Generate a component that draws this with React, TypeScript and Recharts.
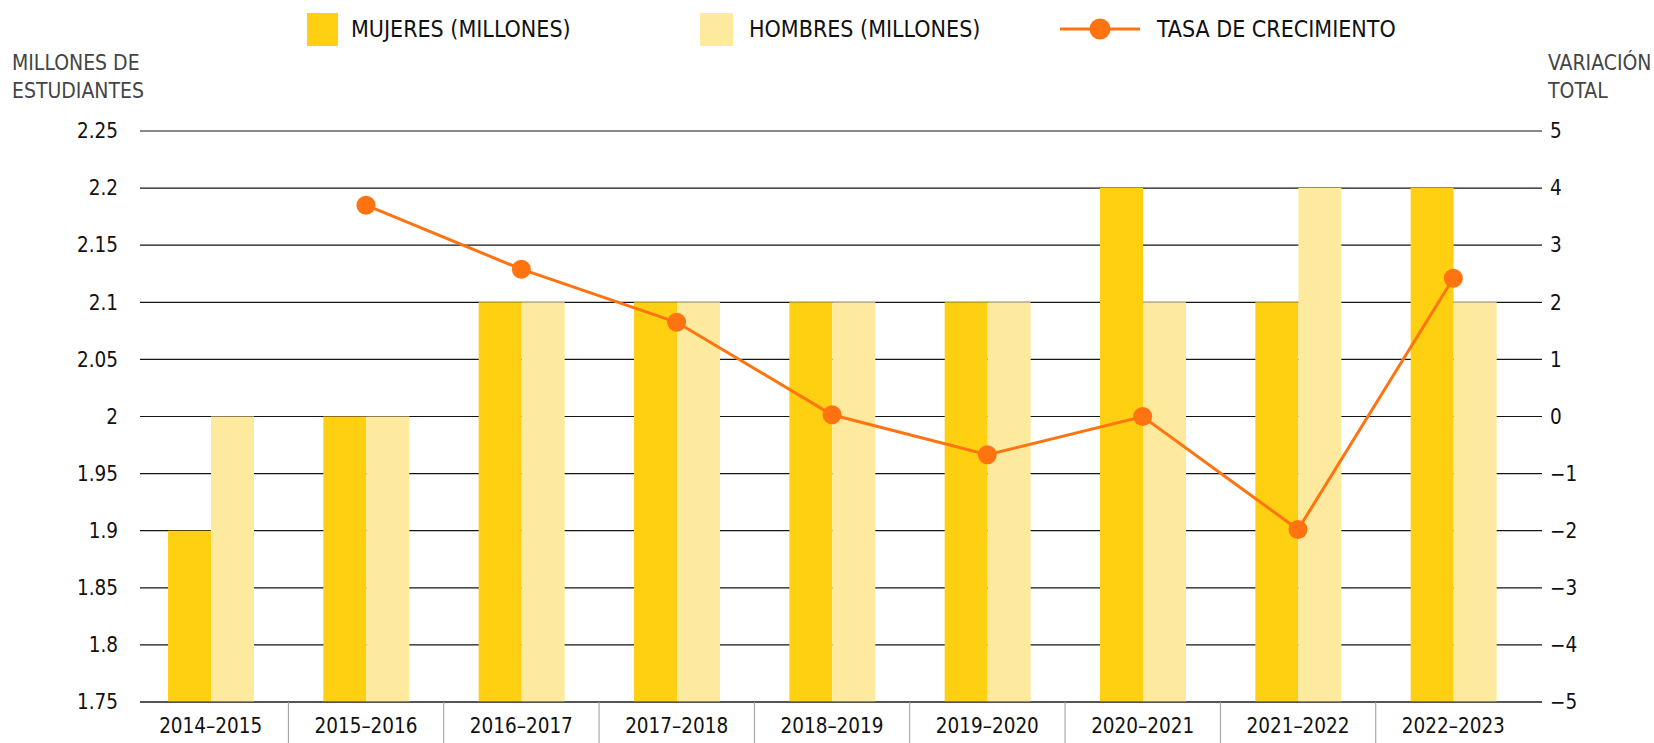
import { Bar, CartesianGrid, ComposedChart, Line, XAxis, YAxis } from "recharts";

const periods = [
  "2014–2015",
  "2015–2016",
  "2016–2017",
  "2017–2018",
  "2018–2019",
  "2019–2020",
  "2020–2021",
  "2021–2022",
  "2022–2023",
];
const mujeres = [1.9, 2.0, 2.1, 2.1, 2.1, 2.1, 2.2, 2.1, 2.2];
const hombres = [2.0, 2.0, 2.1, 2.1, 2.1, 2.1, 2.1, 2.2, 2.1];
const tasa: (number | null)[] = [null, 3.7, 2.58, 1.65, 0.03, -0.67, 0, -1.98, 2.42];
const leftTicks = [1.75, 1.8, 1.85, 1.9, 1.95, 2, 2.05, 2.1, 2.15, 2.2, 2.25];
const rightTicks = [-5, -4, -3, -2, -1, 0, 1, 2, 3, 4, 5];

const data = periods.map((periodo, i) => ({
  periodo,
  mujeres: mujeres[i],
  hombres: hombres[i],
  tasa: tasa[i],
}));

const FONT = "'Liberation Sans Narrow', 'DejaVu Sans Condensed', 'Roboto', sans-serif";
const GOLD = "#FFD012";
const PALE = "#FEEA9E";
const ORANGE = "#FF7410";
const HALF_BAND = 77.6;

function PeriodTick({ x, y, payload, index }: any) {
  return (
    <g>
      {index > 0 && (
        <line x1={x - HALF_BAND} x2={x - HALF_BAND} y1={y - 8} y2={y + 40} stroke="#9a9a9a" strokeWidth={1} />
      )}
      <text x={x} y={y + 16} dy="0.35em" textAnchor="middle" fontSize={20.5} fill="#111" fontFamily={FONT}>
        {payload.value}
      </text>
    </g>
  );
}

function LegendBlock() {
  const text = { position: "absolute" as const, top: 13, fontSize: 23, color: "#111", lineHeight: "32px" };
  return (
    <>
      <div style={{ position: "absolute", left: 307, top: 13, width: 31, height: 33, background: GOLD }} />
      <div style={{ ...text, left: 351 }}>MUJERES (MILLONES)</div>
      <div style={{ position: "absolute", left: 700, top: 13, width: 33, height: 33, background: PALE }} />
      <div style={{ ...text, left: 749 }}>HOMBRES (MILLONES)</div>
      <svg style={{ position: "absolute", left: 1058, top: 14 }} width={84} height={30}>
        <line x1={2} x2={82} y1={15} y2={15} stroke={ORANGE} strokeWidth={3} />
        <circle cx={42} cy={15} r={10.5} fill={ORANGE} />
      </svg>
      <div style={{ ...text, left: 1157 }}>TASA DE CRECIMIENTO</div>
    </>
  );
}

export default function App() {
  const title = { position: "absolute" as const, top: 49, fontSize: 21, color: "#444", lineHeight: "28px" };
  return (
    <div style={{ position: "absolute", left: 0, top: 0, width: 1654, height: 743, fontFamily: FONT, background: "#fff" }}>
      <LegendBlock />
      <div style={{ ...title, left: 12 }}>
        MILLONES DE
        <br />
        ESTUDIANTES
      </div>
      <div style={{ ...title, left: 1548, whiteSpace: "nowrap" }}>
        VARIACIÓN
        <br />
        TOTAL
      </div>
      <ComposedChart
        width={1654}
        height={743}
        data={data}
        margin={{ top: 131, right: 0, bottom: 0, left: 0 }}
        barGap={0}
        style={{ position: "absolute", left: 0, top: 0 }}
      >
        <CartesianGrid yAxisId="left" vertical={false} stroke="#151515" strokeWidth={1.2} />
        <XAxis
          dataKey="periodo"
          height={41}
          padding={{ left: -7, right: 11 }}
          tickLine={false}
          axisLine={{ stroke: "#222", strokeWidth: 1.2 }}
          tick={<PeriodTick />}
          interval={0}
        />
        <YAxis
          yAxisId="left"
          width={140}
          domain={[1.75, 2.25]}
          ticks={leftTicks}
          tickLine={false}
          axisLine={false}
          tickMargin={16}
          tick={{ fontSize: 20.5, fill: "#111", fontFamily: FONT }}
        />
        <YAxis
          yAxisId="right"
          orientation="right"
          width={112}
          domain={[-5, 5]}
          ticks={rightTicks}
          tickLine={false}
          axisLine={false}
          tickFormatter={(v: number) => String(v).replace("-", "−")}
          tick={{ fontSize: 20.5, fill: "#111", fontFamily: FONT, textAnchor: "start" }}
        />
        <Bar yAxisId="left" dataKey="mujeres" fill={GOLD} barSize={43} isAnimationActive={false} />
        <Bar yAxisId="left" dataKey="hombres" fill={PALE} barSize={43} isAnimationActive={false} />
        <Line
          yAxisId="right"
          type="linear"
          dataKey="tasa"
          stroke={ORANGE}
          strokeWidth={3}
          dot={{ r: 9.5, fill: ORANGE, stroke: "none" }}
          activeDot={false}
          connectNulls={false}
          isAnimationActive={false}
        />
      </ComposedChart>
    </div>
  );
}
